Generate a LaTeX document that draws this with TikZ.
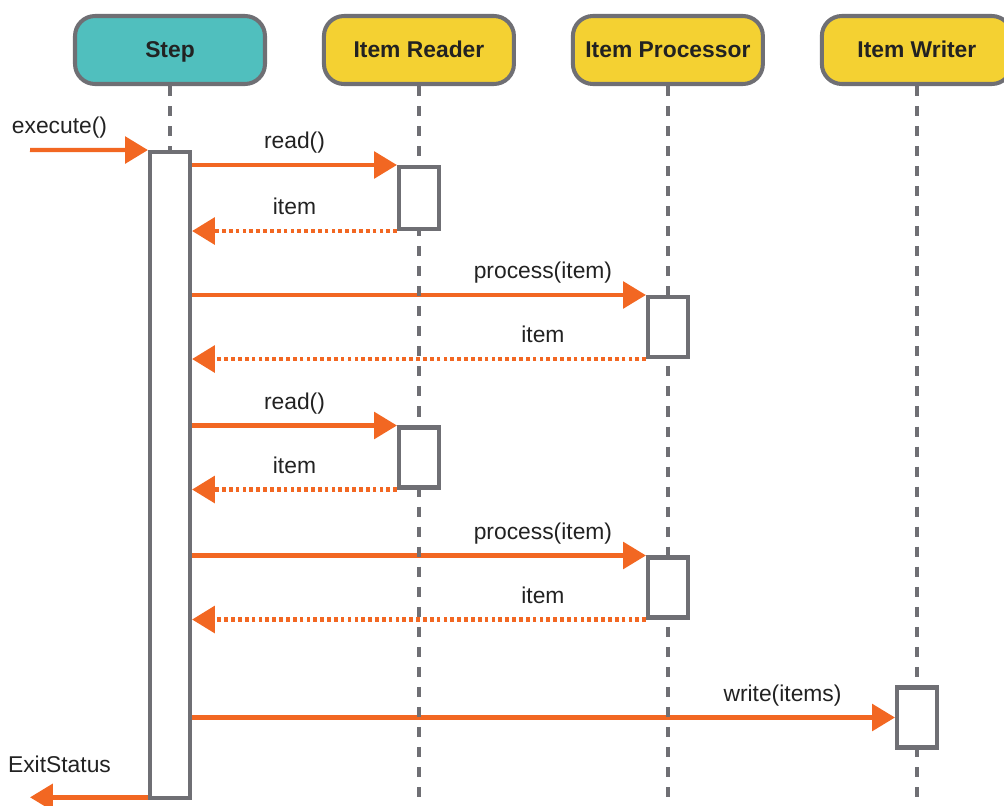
\documentclass[tikz,border=0pt]{standalone}
\usepackage{fontspec}
\setmainfont{Liberation Sans}
\usepackage{tikz}
\usetikzlibrary{arrows.meta}
\usetikzlibrary{backgrounds}
\usepackage{xcolor}
\definecolor{stepteal}{HTML}{50BFBE}
\definecolor{partyellow}{HTML}{F4D132}
\definecolor{boxgrey}{HTML}{6F6F74}
\definecolor{msgorange}{HTML}{F26722}
\definecolor{textdark}{HTML}{222222}
\tikzstyle{header} = [rectangle, rounded corners=0.4cm, minimum width=3.8cm, minimum height=1.36cm, text centered, text height=0.85em, text depth=0pt, draw=boxgrey, line width=2.3pt, font=\fontsize{13}{15}\selectfont\bfseries, text=textdark, fill=partyellow]
\tikzstyle{activation} = [rectangle, minimum width=0.8cm, draw=boxgrey, line width=2.3pt, fill=white, inner sep=0pt]
\tikzstyle{lifeline} = [draw=boxgrey, line width=2.5pt, dash pattern=on 5.7pt off 5.7pt]
\tikzstyle{call} = [draw=msgorange, line width=2.5pt, -{Triangle[length=13pt, width=15pt]}]
\tikzstyle{reply} = [call, line width=2.8pt, dash pattern=on 2.1pt off 1.8pt]
\tikzstyle{msg} = [font=\fontsize{13}{15}\selectfont, text=textdark, inner sep=0pt, text depth=0pt, above=8pt]

\begin{document}
\begin{tikzpicture}[x=0.02cm, y=-0.02cm, node distance=4.98cm]
	\useasboundingbox (0,0) rectangle (1004,805);
	\node (step) [header, fill=stepteal] at (170,50) {Step};
	\node (reader) [header, right of=step] {Item Reader};
	\node (processor) [header, right of=reader] {Item Processor};
	\node (writer) [header, right of=processor] {Item Writer};
	\coordinate (bottom) at (0,805);
	\coordinate (exec) at (30,150);
	\coordinate (exit) at (30,798);
	% activations
	\node (a0) [activation, minimum height=12.92cm] at (170,475) {};
	\node (r1) [activation, minimum height=1.24cm] at (419,198) {};
	\node (p1) [activation, minimum height=1.2cm] at (668,327) {};
	\node (r2) [activation, minimum height=1.2cm] at (419,457.5) {};
	\node (p2) [activation, minimum height=1.2cm] at (668,587.5) {};
	\node (w1) [activation, minimum height=1.2cm] at (917,717.5) {};
	\begin{pgfonlayer}{background}
	%messages
	\draw [call] (exec) -- node[msg, pos=0.25] {execute()} (a0.north west);
	\draw [call] (a0.east |- r1.north west) -- node[msg] {read()} (r1.north west);
	\draw [reply] (r1.south west) -- node[msg] {item} (a0.east |- r1.south west);
	\draw [call] (a0.east |- p1.north west) -- node[msg, pos=0.773] {process(item)} (p1.north west);
	\draw [reply] (p1.south west) -- node[msg, pos=0.227] {item} (a0.east |- p1.south west);
	\draw [call] (a0.east |- r2.north west) -- node[msg] {read()} (r2.north west);
	\draw [reply] (r2.south west) -- node[msg] {item} (a0.east |- r2.south west);
	\draw [call] (a0.east |- p2.north west) -- node[msg, pos=0.773] {process(item)} (p2.north west);
	\draw [reply] (p2.south west) -- node[msg, pos=0.227] {item} (a0.east |- p2.south west);
	\draw [call] (a0.east |- w1.west) -- node[msg, pos=0.84] {write(items)} (w1.west);
	\draw [call] ([yshift=1.5pt]a0.south west) -- node[msg, pos=0.75, above=5pt] {ExitStatus} ([yshift=1.5pt]a0.south west -| exit);
	%lifelines
	\draw [lifeline] (step) -- (a0);
	\draw [lifeline] (reader) -- (reader |- bottom);
	\draw [lifeline] (processor) -- (processor |- bottom);
	\draw [lifeline] (writer) -- (writer |- bottom);
	\end{pgfonlayer}
\end{tikzpicture}
\end{document}
